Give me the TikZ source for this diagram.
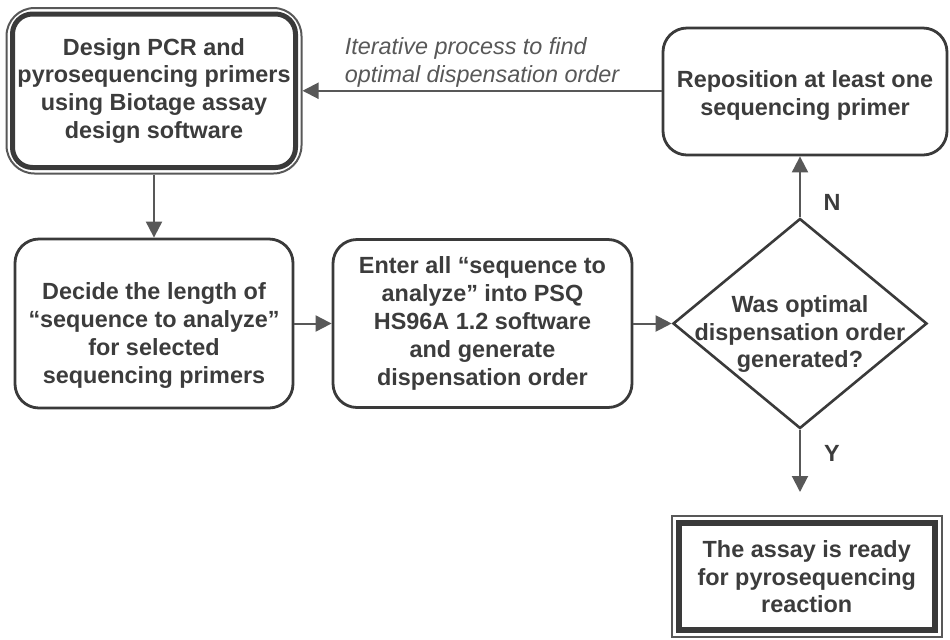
\documentclass[tikz,border=0pt]{standalone}
\usepackage{fontspec}
\setmainfont{Liberation Sans}
\usetikzlibrary{arrows.meta,shapes.geometric,fit}
\definecolor{boxline}{RGB}{58,58,58}
\definecolor{flowline}{RGB}{88,88,88}
\definecolor{boxtext}{RGB}{60,60,60}
\tikzset{
  stepbox/.style={draw=boxline, line width=1.4pt, rounded corners=12pt, fill=white, text=boxtext,
    font=\bfseries\fontsize{11.7}{13.9}\selectfont, align=center, inner sep=0pt},
  outerframe/.style={draw=flowline, line width=1pt, rounded corners=14pt},
  decision/.style={diamond, draw=boxline, line width=1.3pt, inner sep=0pt, minimum width=127pt, minimum height=105pt},
  steptext/.style={text=boxtext, font=\bfseries\fontsize{11.7}{13.7}\selectfont, align=center, inner sep=0pt},
  flowarrow/.style={draw=flowline, line width=1pt, -{Triangle[length=8pt,width=8pt]}},
  flowlabel/.style={text=boxtext, font=\bfseries\fontsize{11.7}{13.7}\selectfont},
  looplabel/.style={text=flowline, font=\itshape\fontsize{11.7}{14}\selectfont, align=left, inner sep=1pt}
}
\begin{document}
\begin{tikzpicture}[x=0.5pt, y=-0.5pt]
    \useasboundingbox (0,0) rectangle (950,639);
    \node [stepbox, line width=2.5pt, rounded corners=10pt, minimum width=141.5pt, minimum height=76.75pt] (design) at (154,90.75) {Design PCR and\\pyrosequencing primers\\using Biotage assay\\design software};
    \node [outerframe, fit=(design), inner sep=1.75pt] (designframe) {};
    \node [stepbox, minimum width=139pt, minimum height=84.5pt, text height=62pt] (decide) at (154,323.5) {Decide the length of\\“sequence to analyze”\\for selected\\sequencing primers};
    \node [stepbox, minimum width=149.5pt, minimum height=84pt] (enter) at (482.5,323.5) {Enter all “sequence to\\analyze” into PSQ\\HS96A 1.2 software\\and generate\\dispensation order};
    \node [decision] (optq) at (800,323.5) {};
    \node [steptext] (optqtext) at (800,334) {Was optimal\\dispensation order\\generated?};
    \node [stepbox, minimum width=142pt, minimum height=63.5pt, text height=26pt] (repos) at (805,91.5) {Reposition at least one\\sequencing primer};
    \node [stepbox, rounded corners=0pt, line width=3pt, minimum width=128pt, minimum height=53.5pt] (ready) at (806.75,576.75) {The assay is ready\\for pyrosequencing\\reaction};
    \node [outerframe, sharp corners, fit=(ready), inner sep=2pt] (readyframe) {};
    \coordinate (readyin) at (800,492);

    \draw [flowarrow] (designframe) -- (decide);
    \draw [flowarrow] (decide) -- (enter);
    \draw [flowarrow] (enter) -- (optq);
    \draw [flowarrow] (optq.north) -- (optq.north |- repos.south);
    \draw [flowarrow] (repos.west |- designframe.east) -- (designframe.east) node [looplabel, midway, above] (iterlabel) {Iterative process to find\\optimal dispensation order};
    \draw [flowarrow] (optq) -- (readyin);
    \node [flowlabel] (nolabel) at (832,202) {N};
    \node [flowlabel] (yeslabel) at (832,453) {Y};
\end{tikzpicture}
\end{document}
